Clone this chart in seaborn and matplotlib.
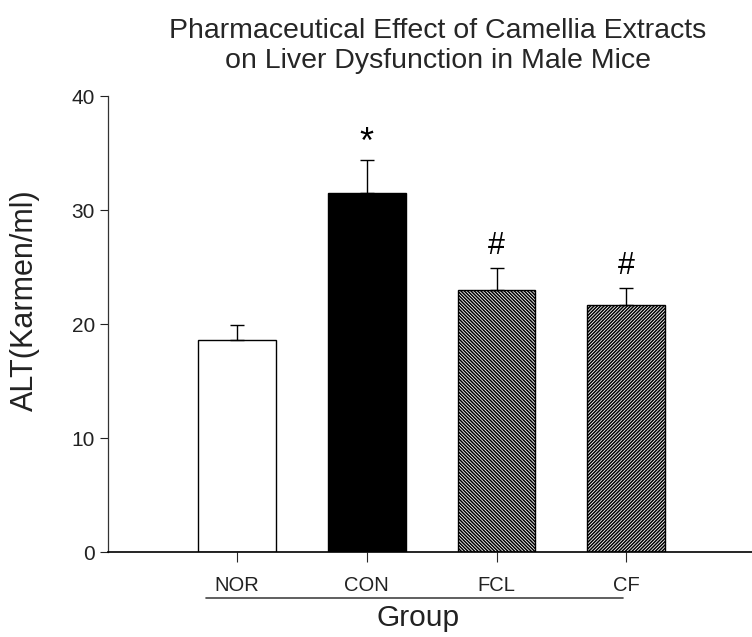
import matplotlib
matplotlib.use("Agg")
import matplotlib.pyplot as plt
import seaborn as sns
import pandas as pd

groups = ["NOR", "CON", "FCL", "CF"]
alt_mean = [18.6, 31.5, 23.0, 21.7]
alt_sem = [1.3, 2.9, 1.9, 1.5]
marks = ["", "*", "#", "#"]

fill_colors = ["white", "black", "white", "white"]
hatches = [None, None, "\\\\\\\\\\\\\\\\\\\\", "//////////"]

sns.set_theme(style="white")
plt.rcParams["font.family"] = ["Liberation Sans", "DejaVu Sans"]
plt.rcParams["hatch.linewidth"] = 1.1

df = pd.DataFrame({"Group": groups, "ALT": alt_mean})

fig = plt.figure(figsize=(7.52, 6.37), dpi=100)
ax = fig.add_axes([107.5 / 752, 1 - 552 / 637, 1 - 107.5 / 752, 456 / 637])

sns.barplot(data=df, x="Group", y="ALT", order=groups, width=0.6,
            palette=fill_colors, hue="Group", legend=False,
            edgecolor="black", linewidth=1.0, ax=ax, errorbar=None)

for patch, h in zip(ax.patches, hatches):
    if h:
        patch.set_hatch(h)

xs = list(range(len(groups)))
ax.errorbar(xs, alt_mean, yerr=[[0] * len(groups), alt_sem], fmt="none",
            ecolor="black", elinewidth=1.0, capsize=5, capthick=1.0, zorder=3)

# significance marks above the error bars
for x, m, s, t in zip(xs, alt_mean, alt_sem, marks):
    if t == "*":
        ax.text(x, m + s - 0.1, t, ha="center", va="bottom",
                fontsize=26, color="black")
    elif t:
        ax.text(x, m + s + 0.6, t, ha="center", va="bottom",
                fontsize=22, color="black")

ax.set_xlim(-1, 3.97)
ax.set_ylim(0, 40)
ax.set_yticks([0, 10, 20, 30, 40])
ax.set_xticks(xs)
ax.set_xticklabels(groups, fontsize=14.5, color="#222222")
ax.tick_params(axis="y", labelsize=15, length=6, width=0.8, direction="out",
               left=True, colors="#222222", pad=3)
ax.tick_params(axis="x", length=7, width=0.8, direction="out", bottom=True,
               pad=10)

for side in ["top", "right"]:
    ax.spines[side].set_visible(False)
ax.spines["left"].set_color("#333333")
ax.spines["left"].set_linewidth(0.9)
ax.spines["bottom"].set_color("black")
ax.spines["bottom"].set_linewidth(1.2)

ax.set_ylabel("")
ax.set_xlabel("")
fig.text(25 / 752, 1 - 300 / 637, "ALT(Karmen/ml)", rotation=90,
         ha="center", va="center", fontsize=22, color="#222222")

# rule under the category labels, and the axis name beneath it
fig.add_artist(plt.Line2D([206 / 752, 623 / 752], [1 - 598 / 637] * 2,
                          color="#444444", linewidth=1.2))
fig.text(418 / 752, 1 - 618 / 637, "Group", ha="center", va="center",
         fontsize=21.5, color="#222222")

fig.text(438 / 752, 1 - 46 / 637,
         "Pharmaceutical Effect of Camellia Extracts\non Liver Dysfunction in Male Mice",
         ha="center", va="center", fontsize=20.5, linespacing=1.2)

fig.savefig("out.png", dpi=100)
